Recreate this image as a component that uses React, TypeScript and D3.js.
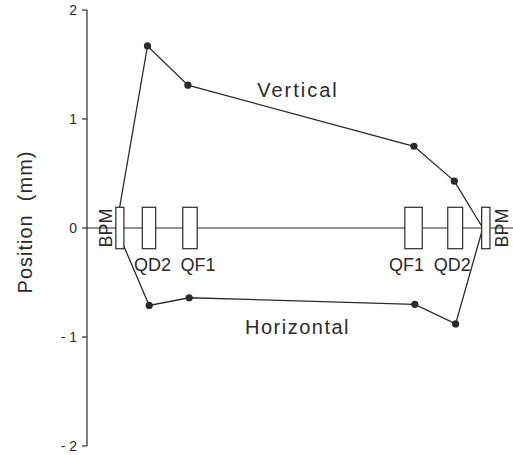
import React from "react";
import * as d3 from "d3";

const elementNames = ["BPM", "QD2", "QF1", "QF1", "QD2", "BPM"];
const elementS = [7.5, 14.35, 24.0, 76.6, 86.4, 93.6];
const elementLen = [1.9, 3.15, 3.4, 4.1, 3.5, 1.95];

const verticalS = [6.6, 14.0, 23.5, 76.7, 86.2, 92.9];
const verticalMm = [0, 1.67, 1.31, 0.75, 0.43, 0];
const horizontalS = [6.6, 14.4, 23.8, 76.9, 86.5, 92.9];
const horizontalMm = [0, -0.71, -0.64, -0.7, -0.88, 0];

const yTicks = [2, 1, 0, -1, -2];
const yTickLabels = ["2", "1", "0", "- 1", "- 2"];

const W = 513;
const H = 455;

export default function App() {
  const x = d3.scaleLinear().domain([0, 100]).range([88, 513]);
  const y = d3.scaleLinear().domain([-2, 2]).range([446, 10]);
  const ink = "#2a2a2a";
  const font = "'Liberation Sans', Arial, Helvetica, sans-serif";
  const line = d3
    .line<[number, number]>()
    .x((d) => x(d[0]))
    .y((d) => y(d[1]));
  const vPts = verticalS.map((s, i) => [s, verticalMm[i]] as [number, number]);
  const hPts = horizontalS.map((s, i) => [s, horizontalMm[i]] as [number, number]);
  const axisX = 87;
  const labelDx = [-15, 3.5, 8, -7, -3, 15];
  const halfH = 0.19;

  return (
    <svg
      width={W}
      height={H}
      style={{ position: "absolute", left: 0, top: 0, background: "#fff" }}
      fontFamily={font}
    >
      {/* y axis */}
      <line x1={axisX} x2={axisX} y1={y(2)} y2={y(-2)} stroke={ink} strokeWidth={1.2} />
      {yTicks.map((t, i) => (
        <g key={t}>
          <line x1={axisX - 5} x2={axisX} y1={y(t)} y2={y(t)} stroke={ink} strokeWidth={1.2} />
          <text
            x={axisX - 10}
            y={y(t)}
            dy="0.35em"
            textAnchor="end"
            fontSize={14}
            fill={ink}
          >
            {yTickLabels[i]}
          </text>
        </g>
      ))}
      <text
        transform={`translate(32,${222}) rotate(-90)`}
        textAnchor="middle"
        fontSize={20}
        letterSpacing={1}
        fill={ink}
      >
        {"Position\u00a0\u00a0(mm)"}
      </text>

      {/* beamline */}
      <line x1={axisX} x2={W} y1={y(0)} y2={y(0)} stroke={ink} strokeWidth={1.2} />

      {/* orbits */}
      <path d={line(vPts) || ""} fill="none" stroke={ink} strokeWidth={1.3} />
      <path d={line(hPts) || ""} fill="none" stroke={ink} strokeWidth={1.3} />
      {vPts.slice(1, -1).map((p, i) => (
        <circle key={"v" + i} cx={x(p[0])} cy={y(p[1])} r={3.6} fill={ink} />
      ))}
      {hPts.slice(1, -1).map((p, i) => (
        <circle key={"h" + i} cx={x(p[0])} cy={y(p[1])} r={3.6} fill={ink} />
      ))}

      {/* elements */}
      {elementNames.map((name, i) => {
        const x0 = x(elementS[i] - elementLen[i] / 2);
        const x1 = x(elementS[i] + elementLen[i] / 2);
        const cx = x(elementS[i]) + labelDx[i];
        const isBpm = name === "BPM";
        return (
          <g key={i}>
            <rect
              x={x0}
              y={y(halfH)}
              width={x1 - x0}
              height={y(-halfH) - y(halfH)}
              fill="#fff"
              stroke={ink}
              strokeWidth={1.2}
            />
            {isBpm ? (
              <text
                transform={`translate(${cx + 7},${y(0)}) rotate(-90)`}
                textAnchor="middle"
                fontSize={18}
                fill={ink}
              >
                {name}
              </text>
            ) : (
              <text x={cx} y={271} textAnchor="middle" fontSize={18} fill={ink}>
                {name}
              </text>
            )}
          </g>
        );
      })}

      {/* series labels */}
      <text x={298} y={97} textAnchor="middle" fontSize={20} letterSpacing={2} fill={ink}>
        Vertical
      </text>
      <text x={297.5} y={334} textAnchor="middle" fontSize={20} letterSpacing={1.5} fill={ink}>
        Horizontal
      </text>
    </svg>
  );
}
